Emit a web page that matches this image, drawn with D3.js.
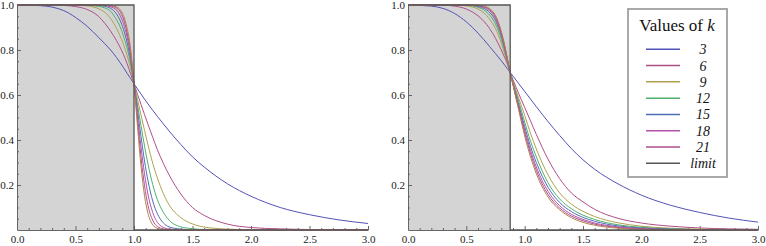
<!DOCTYPE html>
<html>
<head>
<meta charset="utf-8">
<script src="https://cdn.jsdelivr.net/npm/d3@7"></script>
<style>
    body { margin: 0; background: #fff; }
    svg { display: block; }
    svg text { font-family: "Liberation Serif", Tinos, "DejaVu Serif", "Times New Roman", Times, serif !important; }
</style>
</head>
<body>
<svg id="chart" width="766" height="246"></svg>
<script>
const kValues = [3, 6, 9, 12, 15, 18, 21, 24];
const legendLabels = ["3", "6", "9", "12", "15", "18", "21", "limit"];
const xTicks = [0, 0.5, 1, 1.5, 2, 2.5, 3];
const yTicks = [0.2, 0.4, 0.6, 0.8, 1.0];

// left panel: step at 1
const limitLeft = 1;
const xLeft = [0, 0.2, 0.4, 0.5, 0.6, 0.7, 0.75, 0.8, 0.85, 0.88, 0.91, 0.94, 0.97, 1.0, 1.03, 1.06, 1.09, 1.12, 1.16, 1.2, 1.25, 1.3, 1.4, 1.5, 1.6, 1.8, 2.0, 2.25, 2.5, 2.75, 3.0];
const left3  = [1, 0.997, 0.975, 0.945, 0.905, 0.855, 0.828, 0.80, 0.767, 0.745, 0.722, 0.697, 0.674, 0.65, 0.627, 0.604, 0.582, 0.56, 0.532, 0.505, 0.472, 0.44, 0.38, 0.325, 0.28, 0.205, 0.15, 0.10, 0.068, 0.045, 0.029];
const left6  = [1, 1, 0.998, 0.993, 0.98, 0.948, 0.919, 0.884, 0.842, 0.813, 0.78, 0.741, 0.696, 0.65, 0.603, 0.558, 0.513, 0.469, 0.412, 0.357, 0.297, 0.245, 0.16, 0.10, 0.065, 0.026, 0.011, 0.005, 0.002, 0.001, 0.0006];
const left9  = [1, 1, 1, 0.999, 0.996, 0.983, 0.968, 0.94, 0.897, 0.864, 0.825, 0.778, 0.72, 0.65, 0.58, 0.511, 0.443, 0.377, 0.297, 0.231, 0.163, 0.112, 0.055, 0.027, 0.013, 0.004, 0.0012, 0.0004, 0.0001, 0, 0];
const left12 = [1, 1, 1, 1, 0.999, 0.994, 0.987, 0.972, 0.935, 0.905, 0.862, 0.81, 0.74, 0.65, 0.556, 0.464, 0.373, 0.292, 0.202, 0.135, 0.079, 0.044, 0.014, 0.006, 0.002, 0.0004, 0, 0, 0, 0, 0];
const left15 = [1, 1, 1, 1, 1, 0.998, 0.994, 0.985, 0.961, 0.933, 0.892, 0.836, 0.758, 0.65, 0.532, 0.416, 0.307, 0.218, 0.129, 0.072, 0.032, 0.014, 0.004, 0.001, 0, 0, 0, 0, 0, 0, 0];
const left18 = [1, 1, 1, 1, 1, 0.9993, 0.998, 0.992, 0.978, 0.955, 0.917, 0.86, 0.776, 0.65, 0.508, 0.369, 0.25, 0.157, 0.078, 0.034, 0.012, 0.0045, 0.001, 0, 0, 0, 0, 0, 0, 0, 0];
const left21 = [1, 1, 1, 1, 1, 0.9998, 0.9993, 0.9965, 0.987, 0.972, 0.938, 0.88, 0.794, 0.65, 0.485, 0.323, 0.197, 0.108, 0.043, 0.0155, 0.005, 0.0017, 0, 0, 0, 0, 0, 0, 0, 0, 0];
const left24 = [1, 1, 1, 1, 1, 1, 0.9995, 0.998, 0.992, 0.9805, 0.953, 0.90, 0.809, 0.65, 0.46, 0.283, 0.152, 0.073, 0.023, 0.0075, 0.002, 0, 0, 0, 0, 0, 0, 0, 0, 0, 0];

// right panel: step at 0.876
const limitRight = 0.876;
const xRight = [0, 0.2, 0.3, 0.4, 0.5, 0.6, 0.65, 0.7, 0.75, 0.8, 0.83, 0.85, 0.876, 0.9, 0.95, 1.0, 1.05, 1.1, 1.2, 1.3, 1.4, 1.5, 1.6, 1.8, 2.0, 2.25, 2.5, 2.75, 3.0];
const right3  = [1, 0.995, 0.985, 0.962, 0.925, 0.875, 0.846, 0.815, 0.784, 0.752, 0.732, 0.718, 0.70, 0.684, 0.65, 0.616, 0.582, 0.548, 0.482, 0.42, 0.362, 0.312, 0.27, 0.205, 0.155, 0.11, 0.078, 0.053, 0.035];
const right6  = [1, 1, 0.999, 0.995, 0.982, 0.952, 0.928, 0.895, 0.852, 0.80, 0.765, 0.74, 0.70, 0.668, 0.605, 0.545, 0.485, 0.425, 0.315, 0.228, 0.165, 0.125, 0.092, 0.052, 0.031, 0.017, 0.009, 0.005, 0.003];
const right9  = [1, 1, 1, 1, 0.996, 0.982, 0.965, 0.937, 0.895, 0.83, 0.78, 0.745, 0.70, 0.66, 0.585, 0.51, 0.43, 0.36, 0.245, 0.165, 0.115, 0.083, 0.06, 0.032, 0.017, 0.008, 0.004, 0.002, 0.001];
const right12 = [1, 1, 1, 1, 0.999, 0.99, 0.978, 0.955, 0.915, 0.848, 0.793, 0.752, 0.70, 0.655, 0.57, 0.48, 0.395, 0.325, 0.21, 0.138, 0.095, 0.066, 0.047, 0.023, 0.012, 0.005, 0.002, 0.001, 0.0005];
const right15 = [1, 1, 1, 1, 1, 0.994, 0.985, 0.967, 0.93, 0.862, 0.803, 0.758, 0.70, 0.65, 0.555, 0.46, 0.372, 0.3, 0.19, 0.122, 0.082, 0.056, 0.039, 0.018, 0.009, 0.004, 0.0015, 0.0006, 0.0002];
const right18 = [1, 1, 1, 1, 1, 0.996, 0.99, 0.975, 0.94, 0.87, 0.81, 0.762, 0.70, 0.648, 0.545, 0.445, 0.355, 0.28, 0.172, 0.108, 0.07, 0.047, 0.031, 0.014, 0.006, 0.002, 0.001, 0, 0];
const right21 = [1, 1, 1, 1, 1, 0.998, 0.993, 0.98, 0.948, 0.877, 0.815, 0.765, 0.70, 0.646, 0.538, 0.432, 0.34, 0.265, 0.158, 0.098, 0.062, 0.041, 0.026, 0.011, 0.005, 0.002, 0.0005, 0, 0];
const right24 = [1, 1, 1, 1, 1, 0.999, 0.995, 0.984, 0.953, 0.882, 0.818, 0.768, 0.70, 0.644, 0.53, 0.418, 0.325, 0.25, 0.147, 0.09, 0.055, 0.034, 0.021, 0.008, 0.003, 0.001, 0, 0, 0];

const colors = ["#5252b8", "#b04e88", "#b0a050", "#4eb06a", "#4e6eb4", "#b452ac", "#b04e8a", "#b08250"];
const limitColor = "#555";
const axisColor = "#666";
const serif = "'Liberation Serif', Tinos, 'DejaVu Serif', 'Times New Roman', Times, serif";

const svg = d3.select("#chart");
const y = d3.scaleLinear().domain([0, 1]).range([230, 5]);

function drawPanel(xs, series, limitAt, left, right) {
    const x = d3.scaleLinear().domain([0, 3]).range([left, right]);
    const g = svg.append("g");

    // shaded area under the limit step
    g.append("rect")
        .attr("x", x(0)).attr("y", y(1))
        .attr("width", x(limitAt) - x(0)).attr("height", y(0) - y(1))
        .attr("fill", "#d4d4d4");

    // axes, ticks point inward like Mathematica
    const xMinor = d3.range(0, 3.001, 0.1).filter(v => Math.abs(v * 2 - Math.round(v * 2)) > 1e-6);
    const yMinor = d3.range(0.05, 1.0, 0.05).filter(v => Math.abs(v * 5 - Math.round(v * 5)) > 1e-6);

    g.append("g").attr("transform", `translate(0,${y(0)})`)
        .call(d3.axisBottom(x).tickValues(xTicks).tickFormat(d3.format(".1f"))
            .tickSizeInner(-4).tickSizeOuter(0).tickPadding(5));
    g.append("g").attr("transform", `translate(0,${y(0)})`)
        .call(d3.axisBottom(x).tickValues(xMinor).tickFormat("").tickSize(-2))
        .select(".domain").remove();

    g.append("g").attr("transform", `translate(${x(0)},0)`)
        .call(d3.axisLeft(y).tickValues(yTicks).tickFormat(d3.format(".1f"))
            .tickSizeInner(-4).tickSizeOuter(0).tickPadding(3));
    g.append("g").attr("transform", `translate(${x(0)},0)`)
        .call(d3.axisLeft(y).tickValues(yMinor).tickFormat("").tickSize(-2))
        .select(".domain").remove();

    g.selectAll("g").attr("font-family", serif);
    g.selectAll(".domain, .tick line").attr("stroke", axisColor);
    g.selectAll(".tick text").attr("font-size", 11).attr("fill", "#222");

    const line = d3.line()
        .x((d, i) => x(xs[i]))
        .y(d => y(d))
        .curve(d3.curveMonotoneX);

    series.forEach((s, i) => {
        g.append("path")
            .attr("d", line(s))
            .attr("fill", "none")
            .attr("stroke", colors[i])
            .attr("stroke-width", 1);
    });

    // the limit step
    const stepLine = d3.line().x(d => x(d[0])).y(d => y(d[1]));
    g.append("path")
        .attr("d", stepLine([[0, 1], [limitAt, 1], [limitAt, 0], [3, 0]]))
        .attr("fill", "none")
        .attr("stroke", limitColor)
        .attr("stroke-width", 1.3);
}

drawPanel(xLeft, [left3, left6, left9, left12, left15, left18, left21, left24], limitLeft, 17, 368);
drawPanel(xRight, [right3, right6, right9, right12, right15, right18, right21, right24], limitRight, 408, 758);

// legend
const lg = svg.append("g").attr("font-family", serif);
lg.append("rect")
    .attr("x", 628).attr("y", 9).attr("width", 99).attr("height", 168)
    .attr("fill", "#fff").attr("stroke", "#a0a0a0").attr("stroke-width", 1.8);

const title = lg.append("text")
    .attr("x", 677).attr("y", 31)
    .attr("text-anchor", "middle").attr("font-size", 17).attr("fill", "#111");
title.append("tspan").text("Values of ");
title.append("tspan").attr("font-style", "italic").text("k");

const rowY = d3.scaleLinear().domain([0, 7]).range([49.3, 163.3]);
legendLabels.forEach((lab, i) => {
    const yy = rowY(i);
    lg.append("line")
        .attr("x1", 646).attr("x2", 680).attr("y1", yy).attr("y2", yy)
        .attr("stroke", i < 7 ? colors[i] : limitColor)
        .attr("stroke-width", 1.5);
    lg.append("text")
        .attr("x", 703).attr("y", yy + 5)
        .attr("text-anchor", "middle").attr("font-size", 14)
        .attr("font-style", "italic").attr("fill", "#111")
        .text(lab);
});
</script>
</body>
</html>
